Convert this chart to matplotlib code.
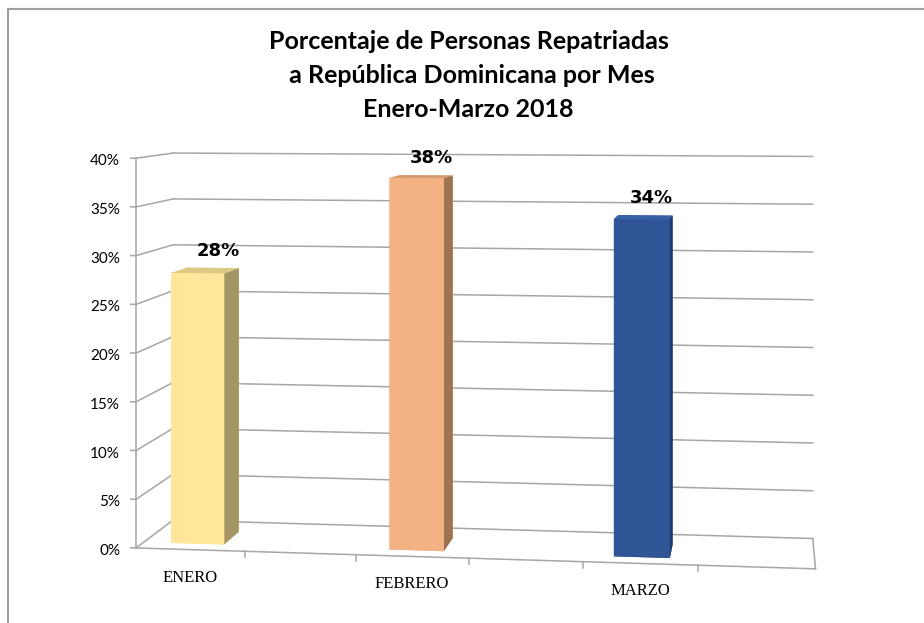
import matplotlib
matplotlib.use('Agg')
import matplotlib.pyplot as plt
import matplotlib.transforms as mtransforms
from mpl_toolkits.mplot3d import proj3d

# data
meses = ['ENERO', 'FEBRERO', 'MARZO']
valores = [0.28, 0.38, 0.34]
etiquetas = ['28%', '38%', '34%']
slots = [0.5, 2.5, 4.5]          # category slots on the x axis (6 slots, 3 left blank)
colores = ['#FFE699', '#F4B183', '#2F5597']
lados = ['#A49565', '#9E7352', '#1F3B6B']
techos = ['#DCC985', '#D69A70', '#3560A6']
ticks_z = [0, 0.05, 0.10, 0.15, 0.20, 0.25, 0.30, 0.35, 0.40]
ticks_txt = ['0%', '5%', '10%', '15%', '20%', '25%', '30%', '35%', '40%']

grid_c = '#A6A6A6'
n_slots = 6
zmax = 0.4

fig = plt.figure(figsize=(9.24, 6.23), dpi=100)
# the camera always aims at the box centre, so the box is made larger than the
# walls and the (square) axes is shifted so the centre sits up and to the right
ax = fig.add_axes([-0.0551, -0.2326, 1.4709, 2.1815], projection='3d')
ax.set_proj_type('persp', focal_length=0.19139)
ax.view_init(elev=0, azim=-85)
ax.set_xlim(0, 9.05)
ax.set_ylim(0, 1)
ax.set_zlim(0, 0.981)
ax.set_box_aspect((0.6818, 0.0586, 0.6402), zoom=1)
ax.set_axis_off()

# walls: gridlines on back wall and left wall
for z in ticks_z:
    ax.plot([0, n_slots], [1, 1], [z, z], color=grid_c, lw=1.1)
    ax.plot([0, 0], [0, 1], [z, z], color=grid_c, lw=1.1)
# floor edges
ax.plot([0, n_slots], [0, 0], [0, 0], color=grid_c, lw=1.1)
ax.plot([n_slots, n_slots], [0, 1], [0, 0], color=grid_c, lw=1.1)
# value axis at the front left corner
ax.plot([0, 0], [0, 0], [0, zmax], color=grid_c, lw=1.1)
for z in ticks_z:
    ax.plot([0, -0.05], [0, 0], [z, z], color=grid_c, lw=1.1)
# category ticks on the front floor edge
for x in range(1, n_slots):
    ax.plot([x, x], [0, 0], [0, -0.006], color=grid_c, lw=1.1)

# bars
w, d, y0 = 0.49, 0.45, 0.2
for x, v, c, s, t in zip(slots, valores, colores, lados, techos):
    # faces: bottom, top, front(-y), back(+y), left(-x), right(+x)
    ax.bar3d(x - w / 2, y0, 0, w, d, v, color=[c, t, c, c, c, s],
             shade=False, edgecolor='none')

M = ax.get_proj()


def to2d(x, y, z):
    xs, ys, _ = proj3d.proj_transform(x, y, z, M)
    return xs, ys


def shifted(dx, dy):
    return mtransforms.offset_copy(ax.transData, fig=fig, x=dx, y=dy, units='dots')


for z, t in zip(ticks_z, ticks_txt):
    px, py = to2d(0, 0, z)
    ax.text2D(px, py, t, transform=shifted(-16, -3), ha='right', va='center',
              fontsize=11, family='Lato')

for x, v, lab in zip(slots, valores, etiquetas):
    px, py = to2d(x + 0.05, y0 + d, v)
    ax.text2D(px, py, lab, transform=shifted(0, 8), ha='center', va='bottom',
              fontsize=13, fontweight='bold', family='DejaVu Sans')

for x, m in zip(slots, meses):
    px, py = to2d(x, 0, 0)
    ax.text2D(px, py, m, transform=shifted(0, -28), ha='center', va='center',
              fontsize=12, family='Liberation Serif')

fig.text(0.507, 0.879, 'Porcentaje de Personas Repatriadas\n a República Dominicana por Mes\nEnero-Marzo 2018',
         ha='center', va='center', fontsize=18, fontweight='bold',
         family='Lato', linespacing=1.58)

# outer frame (top and left edges visible)
fig.add_artist(plt.Line2D([0.009, 0.009], [0, 0.986], color='#A0A0A0', lw=1.5))
fig.add_artist(plt.Line2D([0.009, 1], [0.986, 0.986], color='#A0A0A0', lw=1.5))

fig.savefig('out.png', dpi=100)
